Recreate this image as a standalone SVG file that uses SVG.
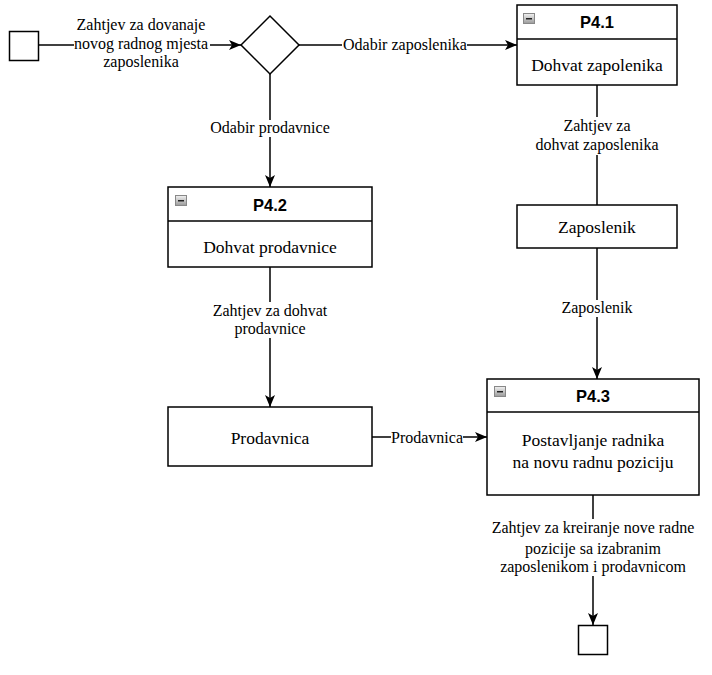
<svg xmlns="http://www.w3.org/2000/svg" width="712" height="675" viewBox="0 0 712 675">
<style>
.box{fill:#fff;stroke:#000;stroke-width:1.5}
.ln{fill:none;stroke:#000;stroke-width:1.5}
.lbl{font-family:"Liberation Serif","Times New Roman",serif;font-size:16px;fill:#000;text-anchor:middle}
.txt{font-family:"Liberation Serif","Times New Roman",serif;font-size:17.5px;fill:#000;text-anchor:middle}
.hd{font-family:"Liberation Sans",Arial,sans-serif;font-size:16.5px;font-weight:bold;fill:#000;text-anchor:middle}
.bg{fill:#fff}
</style>
<defs>
<marker id="arr" markerWidth="13" markerHeight="11" refX="12" refY="5.5" orient="auto" markerUnits="userSpaceOnUse">
<path d="M0,0.5 L12,5.5 L0,10.5 L3,5.5 Z" fill="#000"/>
</marker>
<linearGradient id="ig" x1="0" y1="0" x2="0" y2="1">
<stop offset="0" stop-color="#f2f2f2"/><stop offset="1" stop-color="#9a9a9a"/>
</linearGradient>
<g id="icon">
<rect x="0.5" y="0.5" width="11" height="10" fill="url(#ig)" stroke="#888" stroke-width="1"/>
<rect x="3" y="5" width="6" height="1.5" fill="#222"/>
</g>
</defs>
<g id="connectors">
<line class="ln" x1="38.5" y1="45" x2="241" y2="45" marker-end="url(#arr)"/>
<line class="ln" x1="299" y1="45" x2="517" y2="45" marker-end="url(#arr)"/>
<line class="ln" x1="270" y1="74" x2="270" y2="187" marker-end="url(#arr)"/>
<line class="ln" x1="597" y1="85" x2="597" y2="205"/>
<line class="ln" x1="597" y1="248" x2="597" y2="379" marker-end="url(#arr)"/>
<line class="ln" x1="270" y1="267" x2="270" y2="407" marker-end="url(#arr)"/>
<line class="ln" x1="372" y1="437" x2="487" y2="437" marker-end="url(#arr)"/>
<line class="ln" x1="593" y1="495" x2="593" y2="625" marker-end="url(#arr)"/>
<g id="labels">
<rect class="bg" x="74" y="15" width="136" height="57"/>
<text class="lbl" x="141" y="30">Zahtjev za dovanaje</text>
<text class="lbl" x="141" y="49">novog radnog mjesta</text>
<text class="lbl" x="141" y="67">zaposlenika</text>
<rect class="bg" x="342" y="37" width="125" height="16"/>
<text class="lbl" x="405" y="50">Odabir zaposlenika</text>
<rect class="bg" x="210" y="120" width="120" height="17"/>
<text class="lbl" x="270" y="133">Odabir prodavnice</text>
<rect class="bg" x="530" y="117" width="134" height="38"/>
<text class="lbl" x="597" y="131">Zahtjev za</text>
<text class="lbl" x="597" y="150">dohvat zaposlenika</text>
<rect class="bg" x="560" y="300" width="74" height="17"/>
<text class="lbl" x="597" y="313">Zaposlenik</text>
<rect class="bg" x="210" y="302" width="120" height="36"/>
<text class="lbl" x="270" y="316">Zahtjev za dohvat</text>
<text class="lbl" x="270" y="334">prodavnice</text>
<rect class="bg" x="391" y="430" width="72" height="16"/>
<text class="lbl" x="427" y="443">Prodavnica</text>
<rect class="bg" x="492" y="519" width="202" height="57"/>
<text class="lbl" x="593" y="533">Zahtjev za kreiranje nove radne</text>
<text class="lbl" x="593" y="554">pozicije sa izabranim</text>
<text class="lbl" x="593" y="572">zaposlenikom i prodavnicom</text>
</g>
</g>
<g id="start"><rect class="box" x="9.5" y="31.5" width="29" height="29"/></g>
<g id="gateway"><polygon class="box" points="241,45 270,16 299,45 270,74"/></g>
<g id="p41">
<rect class="box" x="517" y="5" width="160" height="80"/>
<line class="ln" x1="517" y1="39" x2="677" y2="39"/>
<use href="#icon" x="523" y="13"/>
<text class="hd" x="597" y="28">P4.1</text>
<text class="txt" x="597" y="71">Dohvat zapolenika</text>
</g>
<g id="zaposlenik">
<rect class="box" x="517" y="205" width="160" height="43"/>
<text class="txt" x="597" y="233">Zaposlenik</text>
</g>
<g id="p42">
<rect class="box" x="168" y="187" width="204" height="80"/>
<line class="ln" x1="168" y1="221" x2="372" y2="221"/>
<use href="#icon" x="175" y="195"/>
<text class="hd" x="270" y="211">P4.2</text>
<text class="txt" x="270" y="253">Dohvat prodavnice</text>
</g>
<g id="prodavnica">
<rect class="box" x="168" y="407" width="204" height="59"/>
<text class="txt" x="270" y="444">Prodavnica</text>
</g>
<g id="p43">
<rect class="box" x="487" y="379" width="212" height="116"/>
<line class="ln" x1="487" y1="412" x2="699" y2="412"/>
<use href="#icon" x="494" y="386"/>
<text class="hd" x="593" y="402">P4.3</text>
<text class="txt" x="593" y="446">Postavljanje radnika</text>
<text class="txt" x="593" y="468">na novu radnu poziciju</text>
</g>
<g id="end"><rect class="box" x="578.5" y="625.5" width="29" height="29"/></g>
</svg>
